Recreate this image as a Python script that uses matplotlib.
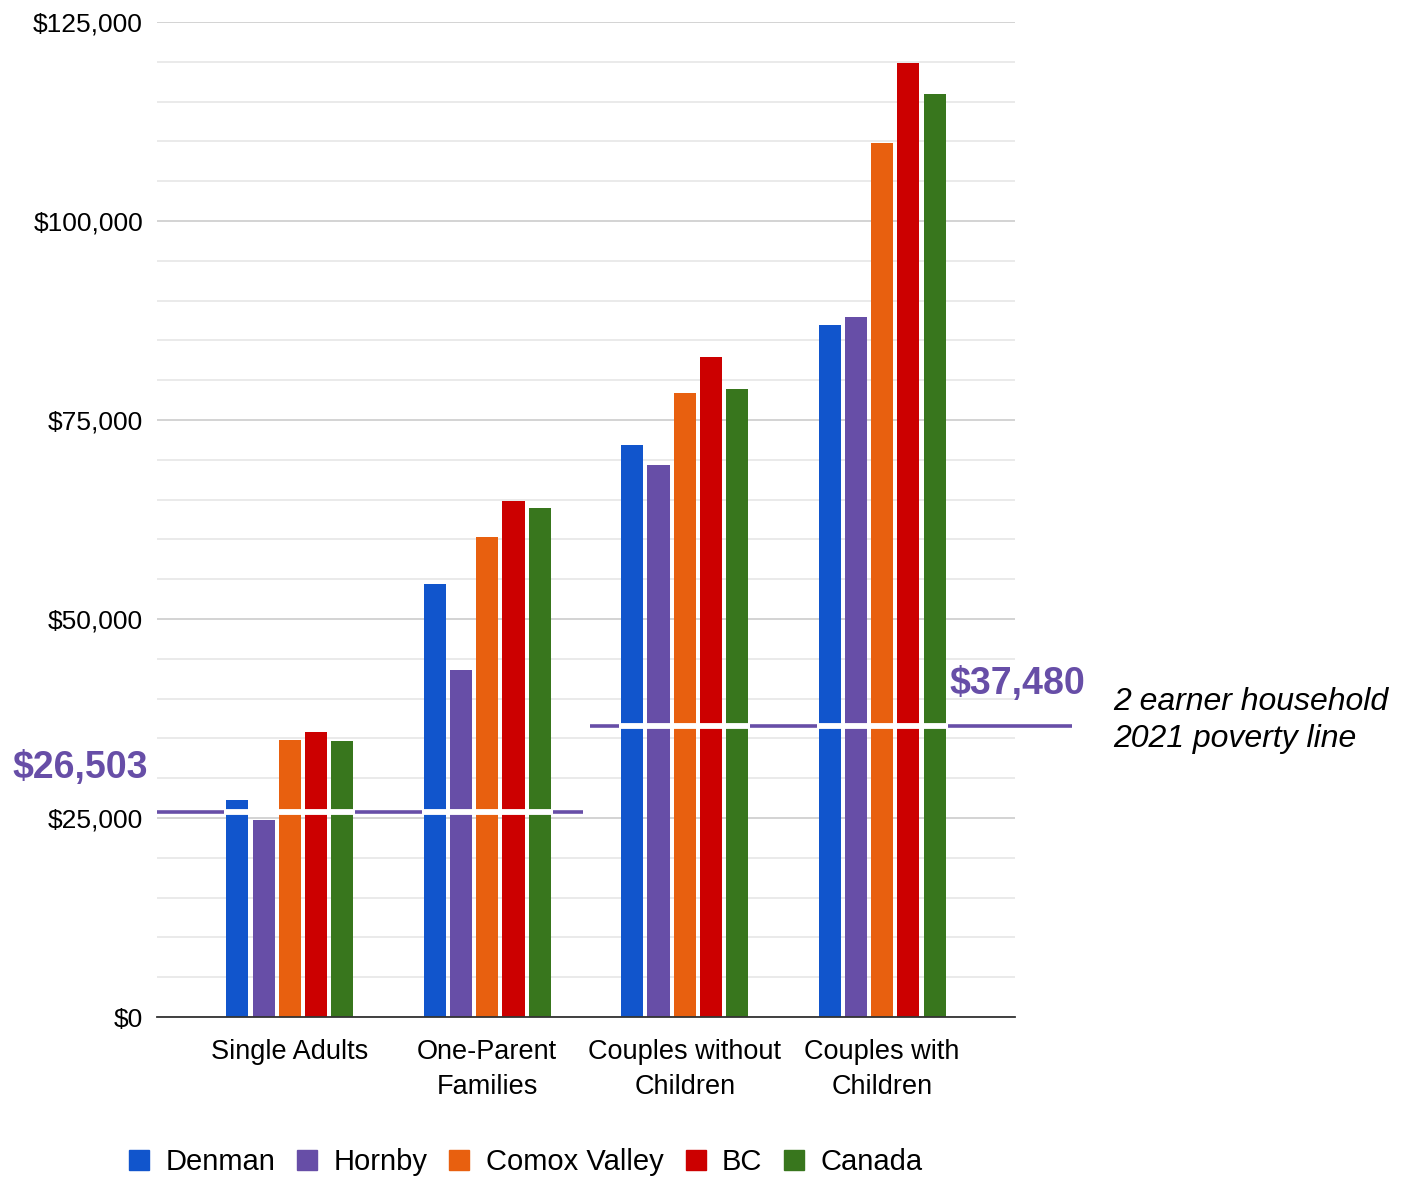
import matplotlib.pyplot as plt
import numpy as np
from matplotlib.lines import Line2D

plt.rcParams['font.family'] = ['Liberation Sans', 'DejaVu Sans']

categories = ['Single Adults', 'One-Parent\nFamilies', 'Couples without\nChildren', 'Couples with\nChildren']
regions = ['Denman', 'Hornby', 'Comox Valley', 'BC', 'Canada']
colors = ['#1155cc', '#674ea7', '#e8600f', '#cc0000', '#38761d']

denman = [27300, 54400, 71900, 86900]
hornby = [24800, 43600, 69300, 87900]
comox = [34800, 60300, 78400, 109800]
bc = [35800, 64800, 82900, 119800]
canada = [34700, 63900, 78900, 116000]
series = [denman, hornby, comox, bc, canada]

# poverty lines: label text and where the line sits on the chart
pov_labels = ['$26,503', '$37,480']
pov_values = [25800, 36500]
pov_groups = [(0, 1), (2, 3)]

purple = '#674ea7'

fig = plt.figure(figsize=(14.09, 11.79), dpi=100)
ax = fig.add_axes([0.1114, 0.1374, 0.6090, 0.8439])

x = np.arange(len(categories))
pitch = 0.133
width = 0.112
for i, (vals, col) in enumerate(zip(series, colors)):
    ax.bar(x + (i - 2) * pitch, vals, width=width, color=col, zorder=3, label=regions[i])

# poverty lines
spans = [(-0.673, 1.484), (1.519, 3.959)]
for val, (g0, g1), (s0, s1) in zip(pov_values, pov_groups, spans):
    ax.plot([s0, s1], [val, val], color=purple, lw=2.6, zorder=2,
            clip_on=False, solid_capstyle='butt')
    for g in (g0, g1):
        ax.plot([g - 2 * pitch - width / 2 - 0.01, g + 2 * pitch + width / 2 + 0.01],
                [val, val], color='white', lw=4.2, zorder=4, solid_capstyle='butt')

ax.text(-0.717, 31300, pov_labels[0], color=purple, fontsize=27,
        fontweight='bold', ha='right', va='center', clip_on=False)
ax.text(3.34, 41800, pov_labels[1], color=purple, fontsize=27,
        fontweight='bold', ha='left', va='center', clip_on=False)
fig.text(0.79, 0.389, '2 earner household\n2021 poverty line', fontsize=23,
         style='italic', ha='left', va='center', linespacing=1.3)

ax.set_xlim(-0.673, 3.673)
ax.set_ylim(0, 125000)
ax.set_yticks(np.arange(0, 125001, 25000))
ax.set_yticklabels(['$0', '$25,000', '$50,000', '$75,000', '$100,000', '$125,000'])
ax.set_yticks(np.arange(0, 125001, 5000), minor=True)
ax.grid(axis='y', which='major', color='#cccccc', lw=1.2, zorder=0)
ax.grid(axis='y', which='minor', color='#e6e6e6', lw=1.2, zorder=0)
ax.set_xticks(x)
ax.set_xticklabels(categories, fontsize=19.5, linespacing=1.45)
ax.tick_params(axis='y', which='both', length=0, labelsize=19, pad=10)
ax.tick_params(axis='x', length=0, pad=16)
for s in ['top', 'right', 'left']:
    ax.spines[s].set_visible(False)
ax.spines['bottom'].set_color('#333333')
ax.spines['bottom'].set_linewidth(1.3)
ax.spines['bottom'].set_zorder(5)

handles = [Line2D([], [], marker='s', ls='', markersize=14, color=c) for c in colors]
fig.legend(handles, regions, loc='center', bbox_to_anchor=(0.3715, 0.0145), ncol=5,
           frameon=False, fontsize=21, handletextpad=0.4, columnspacing=0.6,
           handlelength=1.0)

fig.savefig('out.png', dpi=100)
